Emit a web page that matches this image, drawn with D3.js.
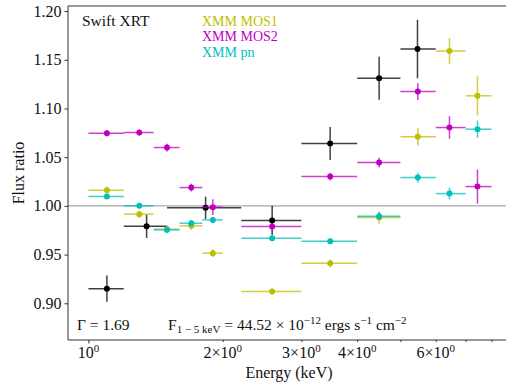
<!DOCTYPE html>
<html><head><meta charset="utf-8">
<script src="https://cdn.jsdelivr.net/npm/d3@7"></script>
<style>
body{margin:0;background:#fff;}
</style></head>
<body><svg id="c" width="506" height="384" font-family="'Liberation Serif', 'Times New Roman', Times, 'DejaVu Serif', serif"></svg>
<script>
// Swift XRT
const swiftE   = [1.10, 1.35, 1.83, 2.58, 3.48, 4.48, 5.46];
const swiftLo  = [1.0, 1.2, 1.5, 2.2, 3.0, 4.0, 5.0];
const swiftHi  = [1.2, 1.5, 2.2, 3.0, 4.0, 5.0, 6.0];
const swiftVal = [0.915, 0.979, 0.998, 0.985, 1.064, 1.131, 1.161];
const swiftErr = [0.0135, 0.012, 0.0115, 0.015, 0.017, 0.022, 0.030];
// XMM bins
const xmmE  = [1.10, 1.30, 1.50, 1.70, 1.90, 2.58, 3.48, 4.48, 5.47, 6.44, 7.44];
const xmmLo = [1.0, 1.2, 1.4, 1.6, 1.8, 2.2, 3.0, 4.0, 5.0, 6.0, 7.0];
const xmmHi = [1.2, 1.4, 1.6, 1.8, 2.0, 3.0, 4.0, 5.0, 6.0, 7.0, 8.0];
const mos1Val = [1.016, 0.9915, 0.976, 0.9795, 0.9514, 0.912, 0.941, 0.988, 1.071, 1.159, 1.113];
const mos1Err = [0.004, 0.004, 0.004, 0.004, 0.004, 0.003, 0.004, 0.0065, 0.009, 0.0135, 0.020];
const mos2Val = [1.0746, 1.0753, 1.0599, 1.0188, 0.9987, 0.9788, 1.0301, 1.0445, 1.1174, 1.0804, 1.0198];
const mos2Err = [0.003, 0.003, 0.004, 0.004, 0.008, 0.004, 0.004, 0.005, 0.0086, 0.0116, 0.0175];
const pnVal = [1.0096, 1.000, 0.9754, 0.9822, 0.9856, 0.9668, 0.9637, 0.9894, 1.0291, 1.0126, 1.0787];
const pnErr = [0.002, 0.002, 0.003, 0.003, 0.003, 0.002, 0.002, 0.004, 0.005, 0.006, 0.009];

const yTicks = [0.90, 0.95, 1.00, 1.05, 1.10, 1.15, 1.20];
const xMajor = [1];
const xLabeled = [1, 2, 3, 4, 6];
const xMinor = [2, 3, 4, 5, 6, 7, 8];

const FONT = "'Liberation Serif', 'Times New Roman', Times, 'DejaVu Serif', serif";
const L = 68, R = 510, T = 6, B = 340;
const svg = d3.select("#c");
const x = d3.scaleLog().domain([0.9, 8.8]).range([L, R]);
const y = d3.scaleLinear().domain([0.8623, 1.2052]).range([B, T]);

// reference line at 1
svg.append("line").attr("x1", L).attr("x2", R).attr("y1", y(1)).attr("y2", y(1))
  .attr("stroke", "#aaaaaa").attr("stroke-width", 1.2);

const series = [
  {name:"Swift XRT", color:"#000000", e:swiftE, lo:swiftLo, hi:swiftHi, v:swiftVal, err:swiftErr},
  {name:"XMM MOS1", color:"#bfbf00", e:xmmE, lo:xmmLo, hi:xmmHi, v:mos1Val, err:mos1Err},
  {name:"XMM MOS2", color:"#bf00bf", e:xmmE, lo:xmmLo, hi:xmmHi, v:mos2Val, err:mos2Err},
  {name:"XMM pn", color:"#00bfbf", e:xmmE, lo:xmmLo, hi:xmmHi, v:pnVal, err:pnErr}
];
series.forEach(s => {
  const g = svg.append("g");
  s.e.forEach((e, i) => {
    g.append("line").attr("x1", x(s.lo[i])).attr("x2", x(s.hi[i]))
      .attr("y1", y(s.v[i])).attr("y2", y(s.v[i]))
      .attr("stroke", s.color).attr("stroke-width", 1.5).attr("stroke-opacity", 0.75);
    g.append("line").attr("x1", x(e)).attr("x2", x(e))
      .attr("y1", y(s.v[i] - s.err[i])).attr("y2", y(s.v[i] + s.err[i]))
      .attr("stroke", s.color).attr("stroke-width", 1.5).attr("stroke-opacity", 0.75);
    g.append("circle").attr("cx", x(e)).attr("cy", y(s.v[i])).attr("r", 3)
      .attr("fill", s.color);
  });
});

// axes
const yAx = svg.append("g").attr("transform", `translate(${L},0)`)
  .call(d3.axisLeft(y).tickValues(yTicks).tickFormat(d3.format(".2f")).tickSize(3.5).tickPadding(3));
yAx.attr("font-family", FONT);
yAx.select(".domain").remove();
yAx.selectAll("text").attr("font-size", 16).attr("fill", "#111").attr("font-family", FONT);
yAx.selectAll("line").attr("stroke", "#333");

const xAx = svg.append("g").attr("transform", `translate(0,${B})`)
  .call(d3.axisBottom(x).tickValues(xMajor).tickFormat("").tickSize(3.5));
xAx.select(".domain").remove();
xAx.selectAll("line").attr("stroke", "#333");
const xAxm = svg.append("g").attr("transform", `translate(0,${B})`)
  .call(d3.axisBottom(x).tickValues(xMinor).tickFormat("").tickSize(2));
xAxm.select(".domain").remove();
xAxm.selectAll("line").attr("stroke", "#333");

function txt(xp, yp, size) {
  return svg.append("text").attr("x", xp).attr("y", yp).attr("font-size", size)
    .attr("font-family", FONT).attr("fill", "#111");
}

// x tick labels
xLabeled.forEach(v => {
  const t = txt(x(v), 358, 16).attr("text-anchor", "middle");
  if (v !== 1) t.append("tspan").text(v + "\u00d7");
  t.append("tspan").text("10");
  t.append("tspan").attr("dy", -6).attr("font-size", 11).text("0");
});

// spines
svg.append("path").attr("d", `M${R},${T}H${L}V${B}H${R}`)
  .attr("fill", "none").attr("stroke", "#333").attr("stroke-width", 1);

// labels
txt(0, 0, 16).attr("transform", `translate(24,${(T+B)/2}) rotate(-90)`)
  .attr("text-anchor", "middle").text("Flux ratio");
txt((L+R)/2, 378, 16).attr("text-anchor", "middle").text("Energy (keV)");

txt(82, 26, 15.5).text("Swift XRT");
series.slice(1).forEach((s, i) => {
  txt(202, 25.5 + i * 15.5, 14).attr("fill", s.color).text(s.name);
});

txt(77, 330, 15.5).text("\u0393 = 1.69");
const f = txt(168, 330, 15.5);
f.append("tspan").text("F");
f.append("tspan").attr("dy", 3).attr("font-size", 11).text("1 \u2212 5 keV");
f.append("tspan").attr("dy", -3).text(" = 44.52 \u00d7 10");
f.append("tspan").attr("dy", -6).attr("font-size", 11).text("\u221212");
f.append("tspan").attr("dy", 6).text(" ergs s");
f.append("tspan").attr("dy", -6).attr("font-size", 11).text("\u22121");
f.append("tspan").attr("dy", 6).text(" cm");
f.append("tspan").attr("dy", -6).attr("font-size", 11).text("\u22122");
</script></body></html>
